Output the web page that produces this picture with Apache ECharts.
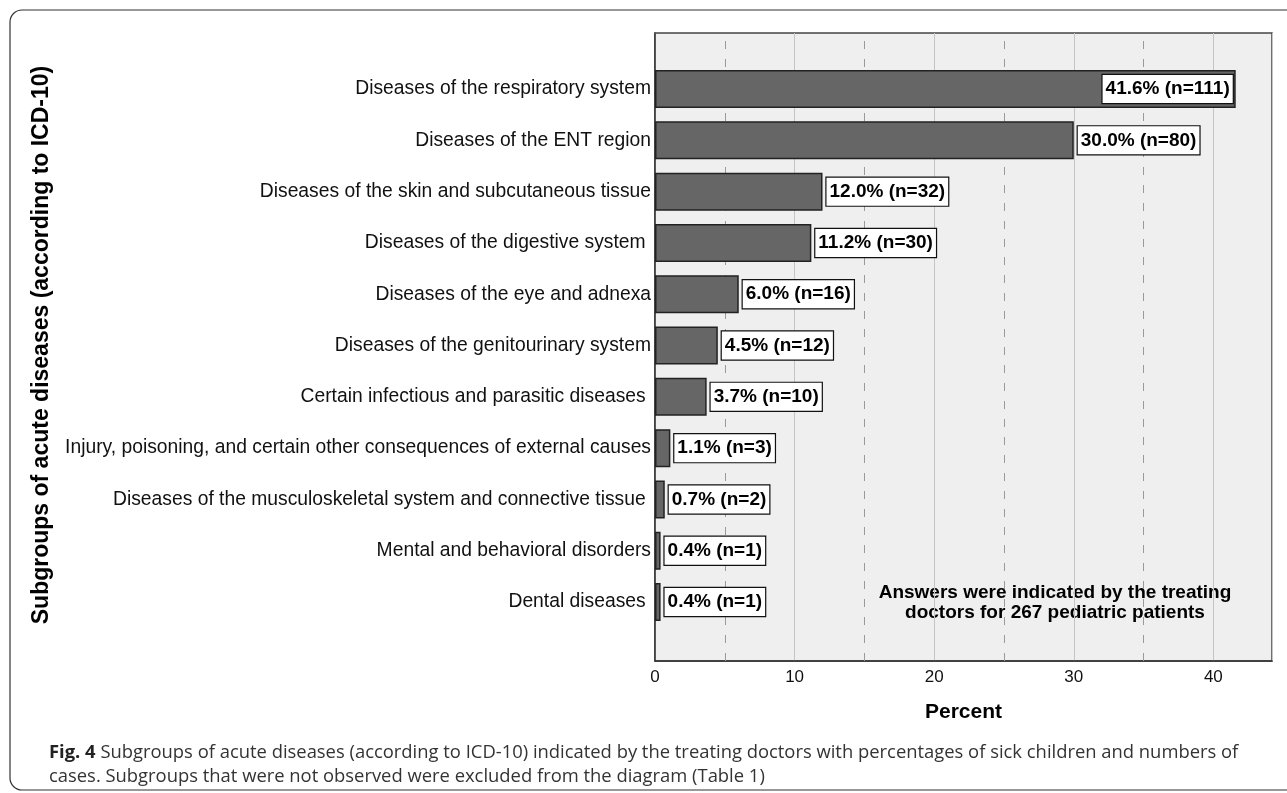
<!DOCTYPE html>
<html>
<head>
<meta charset="utf-8">
<script src="https://cdn.jsdelivr.net/npm/echarts@6/dist/echarts.min.js"></script>
<style>
  html, body { margin: 0; padding: 0; background: #fff; }
  #chart { width: 1287px; height: 793px; }
</style>
</head>
<body>
<div id="chart"></div>
<script>
// categories, top to bottom
const categories = [
  'Diseases of the respiratory system',
  'Diseases of the ENT region',
  'Diseases of the skin and subcutaneous tissue',
  'Diseases of the digestive system ',
  'Diseases of the eye and adnexa',
  'Diseases of the genitourinary system',
  'Certain infectious and parasitic diseases ',
  'Injury, poisoning, and certain other consequences of external causes',
  'Diseases of the musculoskeletal system and connective tissue ',
  'Mental and behavioral disorders',
  'Dental diseases '
]
const percents = [41.6, 30.0, 12.0, 11.2, 6.0, 4.5, 3.7, 1.1, 0.7, 0.4, 0.4]
const counts = [111, 80, 32, 30, 16, 12, 10, 3, 2, 1, 1]
const dashedTicks = [5, 15, 25, 35]

const xMax = 44.2
const plotLeft = 655
const plotRight = 15
const font = '"Liberation Sans", Arial, sans-serif'

const chart = echarts.init(document.getElementById('chart'))

const option = {
  animation: false,
  textStyle: { fontFamily: font },
  grid: [
    // frame of the plot
    {
      left: plotLeft, right: plotRight, top: 33, bottom: 132,
      show: true, backgroundColor: '#efefef', borderColor: '#444', borderWidth: 1.5
    },
    // bars area
    { left: plotLeft, right: plotRight, top: 63.4, height: 564.3 }
  ],
  xAxis: [
    {
      gridIndex: 0, type: 'value', min: 0, max: xMax, interval: 10,
      axisLine: { show: true, lineStyle: { color: '#333', width: 1.5 } },
      axisTick: { show: false },
      axisLabel: { fontSize: 17, color: '#111', margin: 8, showMaxLabel: false },
      splitLine: { show: true, lineStyle: { color: '#c4c4c4', width: 1 } },
      name: 'Percent', nameLocation: 'middle', nameGap: 41,
      nameTextStyle: { fontSize: 21, fontWeight: 'bold', color: '#000' }
    },
    { gridIndex: 1, type: 'value', min: 0, max: xMax, show: false }
  ],
  yAxis: [
    {
      gridIndex: 0, type: 'value', min: 0, max: 1,
      axisLine: { show: true, lineStyle: { color: '#333', width: 1.5 } },
      axisTick: { show: false }, axisLabel: { show: false }, splitLine: { show: false }
    },
    {
      gridIndex: 1, type: 'category', inverse: true, data: categories,
      axisLine: { show: false }, axisTick: { show: false },
      axisLabel: { fontSize: 19.3, color: '#111', margin: 4 }
    }
  ],
  series: [
    {
      // dashed guide lines at 5, 15, 25, 35
      type: 'scatter', xAxisIndex: 0, yAxisIndex: 0, data: [], z: 1,
      markLine: {
        silent: true, symbol: 'none', z: 1,
        label: { show: false },
        lineStyle: { color: '#9a9a9a', type: [8, 10], width: 1 },
        data: dashedTicks.map(v => ({ xAxis: v }))
      }
    },
    {
      type: 'bar', xAxisIndex: 1, yAxisIndex: 1, z: 3,
      barWidth: 38,
      itemStyle: { color: '#666', borderColor: '#222', borderWidth: 1.5 },
      label: {
        show: true, position: 'right', distance: 4,
        fontSize: 19, fontWeight: 'bold', color: '#000', lineHeight: 20,
        backgroundColor: '#fff', borderColor: '#111', borderWidth: 1.2,
        padding: [4, 3, 4, 3],
        formatter: p => p.value.toFixed(1) + '% (n=' + counts[p.dataIndex] + ')'
      },
      data: percents.map((v, i) => i === 0
        ? { value: v, label: { position: 'insideRight', distance: 3 } }
        : v)
    }
  ],
  graphic: [
    {
      type: 'rect', silent: true,
      shape: { x: 10, y: 10, width: 1300, height: 780, r: 12 },
      style: { fill: 'none', stroke: '#333', lineWidth: 1.2 }
    },
    {
      type: 'text', x: 42, y: 345, rotation: Math.PI / 2,
      style: {
        text: 'Subgroups of acute diseases (according to ICD-10)',
        font: 'bold 23px ' + font, fill: '#000',
        textAlign: 'center', textVerticalAlign: 'middle'
      }
    },
    {
      type: 'text', x: 1055, y: 603,
      style: {
        text: 'Answers were indicated by the treating\ndoctors for 267 pediatric patients',
        font: 'bold 19px ' + font, fill: '#000',
        textAlign: 'center', textVerticalAlign: 'middle', lineHeight: 20
      }
    },
    {
      type: 'text', x: 49, y: 753,
      style: {
        text: '{b|Fig. 4} Subgroups of acute diseases (according to ICD-10) indicated by the treating doctors with percentages of sick children and numbers of',
        textVerticalAlign: 'middle',
        rich: {
          b: { font: 'bold 18.4px "Open Sans", sans-serif', fill: '#222' }
        },
        font: '18.4px "Open Sans", sans-serif', fill: '#333'
      }
    },
    {
      type: 'text', x: 49, y: 777,
      style: {
        text: 'cases. Subgroups that were not observed were excluded from the diagram (Table 1)',
        textVerticalAlign: 'middle',
        font: '18.4px "Open Sans", sans-serif', fill: '#333'
      }
    }
  ]
}

chart.setOption(option)
</script>
</body>
</html>
